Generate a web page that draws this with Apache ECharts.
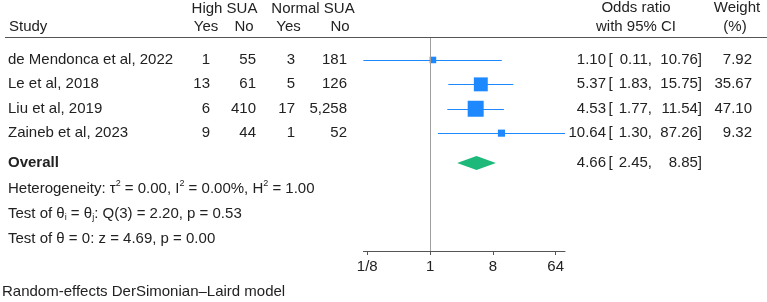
<!DOCTYPE html>
<html>
<head>
<meta charset="utf-8">
<script src="https://cdn.jsdelivr.net/npm/echarts@6/dist/echarts.min.js"></script>
<style>
  html, body { margin: 0; padding: 0; background: #fff; }
  #main { width: 767px; height: 302px; }
</style>
</head>
<body>
<div id="main"></div>
<script>
// study data
var studies = ['de Mendonca et al, 2022', 'Le et al, 2018', 'Liu et al, 2019', 'Zaineb et al, 2023'];
var highYes = [1, 13, 6, 9];
var highNo = [55, 61, 410, 44];
var normYes = [3, 5, 17, 1];
var normNo = [181, 126, 5258, 52];
var orEst = [1.10, 5.37, 4.53, 10.64];
var orLow = [0.11, 1.83, 1.77, 1.30];
var orHigh = [10.76, 15.75, 11.54, 87.26];
var weights = [7.92, 35.67, 47.10, 9.32];
var overallOr = [4.66, 2.45, 8.85]; // est, low, high
var tickValues = [0.125, 1, 8, 64];
var tickLabels = ['1/8', '1', '8', '64'];

var FONT = '"Liberation Sans", Arial, sans-serif';
var FS = 15;
var TXT = '#222';
var BLUE = '#1e88ff';
var GREEN = '#1cb97b';

var rowPos = [0, 1, 2, 3];
var overallPos = 4.22;

var lg = function (v) { return Math.log2(v); };

var chart = echarts.init(document.getElementById('main'));

var ciData = [], sqData = [];
for (var i = 0; i < studies.length; i++) {
    ciData.push([lg(orLow[i]), lg(orHigh[i]), rowPos[i]]);
    sqData.push([lg(orEst[i]), rowPos[i], weights[i]]);
}

chart.setOption({
    animation: false,
    grid: { left: 363.4, right: 202, top: 38, bottom: 51 },
    xAxis: {
        type: 'value',
        min: lg(Math.min.apply(null, orLow)),
        max: lg(Math.max.apply(null, orHigh)),
        splitLine: { show: false },
        axisLine: { onZero: false, lineStyle: { color: '#555', width: 1 } },
        axisTick: {
            customValues: tickValues.map(lg),
            length: 4,
            lineStyle: { color: '#555' }
        },
        axisLabel: {
            customValues: tickValues.map(lg),
            margin: 8,
            color: TXT,
            fontFamily: FONT,
            fontSize: FS,
            formatter: function (v) {
                var k = tickValues.map(lg).indexOf(v);
                return k >= 0 ? tickLabels[k] : '';
            }
        }
    },
    yAxis: {
        type: 'value', inverse: true, min: -0.9, max: 7.83, show: false
    },
    series: [
        {
            type: 'custom',
            data: ciData,
            renderItem: function (params, api) {
                var a = api.coord([api.value(0), api.value(2)]);
                var b = api.coord([api.value(1), api.value(2)]);
                return {
                    type: 'line',
                    shape: { x1: a[0], y1: Math.round(a[1]) + 0.5, x2: b[0], y2: Math.round(b[1]) + 0.5 },
                    style: { stroke: BLUE, lineWidth: 1.2 }
                };
            },
            markLine: {
                silent: true,
                symbol: 'none',
                label: { show: false },
                lineStyle: { color: '#a0a0a0', width: 1, type: 'solid' },
                data: [{ xAxis: 0 }]
            },
            z: 2
        },
        {
            type: 'scatter',
            symbol: 'rect',
            data: sqData,
            symbolSize: function (v) { return 2.33 * Math.sqrt(v[2]); },
            itemStyle: { color: BLUE, opacity: 1 },
            z: 3
        },
        {
            type: 'custom',
            data: [[lg(overallOr[0]), lg(overallOr[1]), lg(overallOr[2]), overallPos]],
            renderItem: function (params, api) {
                var y = api.value(3);
                var c = api.coord([api.value(0), y]);
                var l = api.coord([api.value(1), y]);
                var r = api.coord([api.value(2), y]);
                var h = 7;
                return {
                    type: 'polygon',
                    shape: { points: [[l[0], c[1]], [c[0], c[1] - h], [r[0], c[1]], [c[0], c[1] + h]] },
                    style: { fill: GREEN }
                };
            },
            z: 3
        }
    ]
});

// table text laid out on the same rows as the marks
function rowY(p) { return chart.convertToPixel({ yAxisIndex: 0 }, p); }

function txt(x, y, text, align, extra) {
    var st = {
        x: x, y: y, text: text,
        font: (extra && extra.bold ? 'bold ' : '') + FS + 'px ' + FONT,
        fill: TXT,
        align: align, textAlign: align,
        verticalAlign: 'middle', textVerticalAlign: 'middle'
    };
    if (extra && extra.rich) st.rich = extra.rich;
    return { type: 'text', style: st, silent: true };
}

var fmt = function (v) { return v.toLocaleString('en-US'); };
var f2 = function (v) { return v.toFixed(2); };

var g = [];
// header
g.push(txt(224.5, 9, 'High SUA', 'center'));
g.push(txt(313, 9, 'Normal SUA', 'center'));
g.push(txt(636, 8, 'Odds ratio', 'center'));
g.push(txt(737, 8, 'Weight', 'center'));
g.push(txt(9, 27, 'Study', 'left'));
g.push(txt(206, 27, 'Yes', 'center'));
g.push(txt(244, 27, 'No', 'center'));
g.push(txt(288.5, 27, 'Yes', 'center'));
g.push(txt(340, 27, 'No', 'center'));
g.push(txt(636, 27, 'with 95% CI', 'center'));
g.push(txt(735, 27, '(%)', 'center'));
g.push({
    type: 'line', silent: true,
    shape: { x1: 5, y1: 37.5, x2: 767, y2: 37.5 },
    style: { stroke: '#555', lineWidth: 1.2 }
});

function orText(y, est, lo, hi) {
    g.push(txt(606, y, f2(est), 'right'));
    g.push(txt(608.5, y, '[', 'left'));
    g.push(txt(652, y, f2(lo) + ',', 'right'));
    g.push(txt(702, y, f2(hi) + ']', 'right'));
}

for (var j = 0; j < studies.length; j++) {
    var y = rowY(rowPos[j]);
    g.push(txt(8, y, studies[j], 'left'));
    g.push(txt(210, y, fmt(highYes[j]), 'right'));
    g.push(txt(256, y, fmt(highNo[j]), 'right'));
    g.push(txt(295, y, fmt(normYes[j]), 'right'));
    g.push(txt(347, y, fmt(normNo[j]), 'right'));
    orText(y, orEst[j], orLow[j], orHigh[j]);
    g.push(txt(752, y, f2(weights[j]), 'right'));
}

var yo = rowY(overallPos);
g.push(txt(8, yo, 'Overall', 'left', { bold: true }));
orText(yo, overallOr[0], overallOr[1], overallOr[2]);

var rich = {
    sup: { fontSize: 9, fontFamily: FONT, fill: TXT, verticalAlign: 'top', lineHeight: 19 },
    sub: { fontSize: 9, fontFamily: FONT, fill: TXT, verticalAlign: 'bottom', lineHeight: 17 }
};
g.push(txt(8, 189, 'Heterogeneity: \u03c4{sup|2} = 0.00, I{sup|2} = 0.00%, H{sup|2} = 1.00', 'left', { rich: rich }));
g.push(txt(8, 214, 'Test of \u03b8{sub|i} = \u03b8{sub|j}: Q(3) = 2.20, p = 0.53', 'left', { rich: rich }));
g.push(txt(8, 239, 'Test of \u03b8 = 0: z = 4.69, p = 0.00', 'left'));
g.push(txt(2, 292, 'Random-effects DerSimonian\u2013Laird model', 'left'));

chart.setOption({ graphic: { elements: g } });
</script>
</body>
</html>
